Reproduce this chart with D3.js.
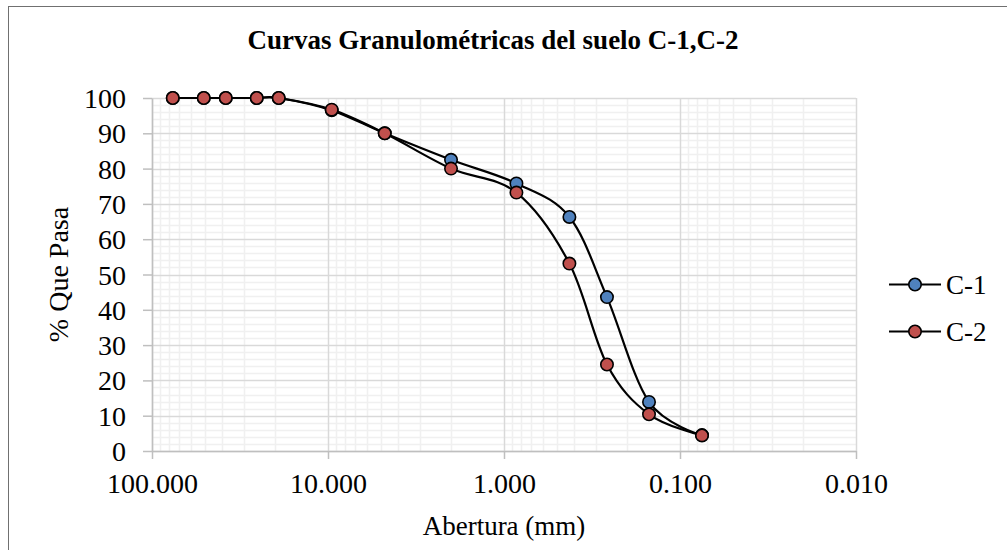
<!DOCTYPE html>
<html>
<head>
<meta charset="utf-8">
<script src="https://cdn.jsdelivr.net/npm/d3@7"></script>
<style>
  html, body { margin: 0; padding: 0; background: #fff; }
  svg { display: block; }
  text { font-family: "Liberation Serif", "Times New Roman", serif; fill: #000; }
</style>
</head>
<body>
<svg id="chart" width="1007" height="550"></svg>
<script>
// Sieve openings (mm) and percent passing for each soil sample
const aberturas = [76.2, 50.8, 38.1, 25.4, 19.05, 9.525, 4.76, 2.0, 0.85, 0.425, 0.26, 0.15, 0.075];
const pasaC1 = [100, 100, 100, 100, 100, 96.5, 90, 82.5, 75.8, 66.3, 43.6, 13.9, 4.5];
const pasaC2 = [100, 100, 100, 100, 100, 96.7, 90, 80.0, 73.2, 53.1, 24.5, 10.4, 4.4];
const seriesNames = ["C-1", "C-2"];
const seriesColors = ["#4f81bd", "#c0504d"];
const xTicks = [100, 10, 1, 0.1, 0.01];
const yTicks = [0, 10, 20, 30, 40, 50, 60, 70, 80, 90, 100];

const svg = d3.select("#chart");
const plotL = 152, plotR = 856, plotT = 98, plotB = 451;

const x = d3.scaleLog().domain([100, 0.01]).range([plotL, plotR]);
const y = d3.scaleLinear().domain([0, 100]).range([plotB, plotT]);

// outer chart frame
svg.append("rect")
  .attr("x", 8.5).attr("y", 6.5)
  .attr("width", 1100).attr("height", 700)
  .attr("fill", "none").attr("stroke", "#707070").attr("stroke-width", 1);

// minor gridlines
const minorX = [];
for (let e = -2; e <= 1; e++) for (let k = 2; k <= 9; k++) minorX.push(k * Math.pow(10, e));
const minorY = d3.range(2, 100, 2).filter(v => v % 10 !== 0);
const grid = svg.append("g");
grid.selectAll(".mx").data(minorX).enter().append("line")
  .attr("x1", d => Math.round(x(d)) + 0.5).attr("x2", d => Math.round(x(d)) + 0.5)
  .attr("y1", plotT).attr("y2", plotB)
  .attr("stroke", "#f0f0f0").attr("stroke-width", 1.5);
grid.selectAll(".my").data(minorY).enter().append("line")
  .attr("y1", d => Math.round(y(d)) + 0.5).attr("y2", d => Math.round(y(d)) + 0.5)
  .attr("x1", plotL).attr("x2", plotR)
  .attr("stroke", "#f0f0f0").attr("stroke-width", 1.5);
// major gridlines
grid.selectAll(".Mx").data(xTicks).enter().append("line")
  .attr("x1", d => Math.round(x(d)) + 0.5).attr("x2", d => Math.round(x(d)) + 0.5)
  .attr("y1", plotT).attr("y2", plotB)
  .attr("stroke", "#d9d9d9").attr("stroke-width", 1.5);
grid.selectAll(".My").data(yTicks).enter().append("line")
  .attr("y1", d => Math.round(y(d)) + 0.5).attr("y2", d => Math.round(y(d)) + 0.5)
  .attr("x1", plotL).attr("x2", plotR)
  .attr("stroke", "#d9d9d9").attr("stroke-width", 1.5);

// axes
const xAxis = svg.append("g").attr("transform", `translate(0,${plotB})`)
  .call(d3.axisBottom(x).tickValues(xTicks).tickFormat(d3.format(".3f")).tickSize(8).tickSizeOuter(0).tickPadding(14));
const yAxis = svg.append("g").attr("transform", `translate(${plotL},0)`)
  .call(d3.axisLeft(y).tickValues(yTicks).tickSize(9).tickSizeOuter(0).tickPadding(17));
[xAxis, yAxis].forEach(a => {
  a.select(".domain").attr("stroke", "#bfbfbf").attr("stroke-width", 1.5);
  a.selectAll(".tick line").attr("stroke", "#bfbfbf").attr("stroke-width", 1.5);
  a.selectAll(".tick text").attr("font-family", "Liberation Serif, serif").attr("font-size", 28).attr("fill", "#000");
});
xAxis.selectAll(".tick text").attr("dy", "0.71em");
yAxis.selectAll(".tick text").attr("dy", "0.34em");

// series
const line = d3.line().curve(d3.curveCardinal.tension(0)).x(d => x(d[0])).y(d => y(d[1]));
[pasaC1, pasaC2].forEach((vals, i) => {
  const pts = aberturas.map((a, j) => [a, vals[j]]);
  const g = svg.append("g");
  g.append("path").attr("d", line(pts)).attr("fill", "none").attr("stroke", "#000").attr("stroke-width", 2.2);
  g.selectAll("circle").data(pts).enter().append("circle")
    .attr("cx", d => x(d[0])).attr("cy", d => y(d[1])).attr("r", 6.2)
    .attr("fill", seriesColors[i]).attr("stroke", "#000").attr("stroke-width", 1.6);
});

// title
svg.append("text").attr("x", 493).attr("y", 49).attr("text-anchor", "middle")
  .attr("font-size", 27).attr("font-weight", "bold")
  .text("Curvas Granulométricas del suelo C-1,C-2");

// axis titles
svg.append("text").attr("x", (plotL + plotR) / 2).attr("y", 535).attr("text-anchor", "middle")
  .attr("font-size", 27).text("Abertura (mm)");
svg.append("text").attr("transform", `translate(68,${(plotT + plotB) / 2}) rotate(-90)`)
  .attr("text-anchor", "middle").attr("font-size", 28).text("% Que Pasa");

// legend
const legY = [284.5, 331.5];
seriesNames.forEach((n, i) => {
  const g = svg.append("g");
  g.append("line").attr("x1", 889).attr("x2", 941).attr("y1", legY[i]).attr("y2", legY[i])
    .attr("stroke", "#000").attr("stroke-width", 2.2);
  g.append("circle").attr("cx", 915).attr("cy", legY[i]).attr("r", 6.2)
    .attr("fill", seriesColors[i]).attr("stroke", "#000").attr("stroke-width", 1.6);
  g.append("text").attr("x", 946).attr("y", legY[i]).attr("dy", "0.34em")
    .attr("font-size", 27).text(n);
});
</script>
</body>
</html>
